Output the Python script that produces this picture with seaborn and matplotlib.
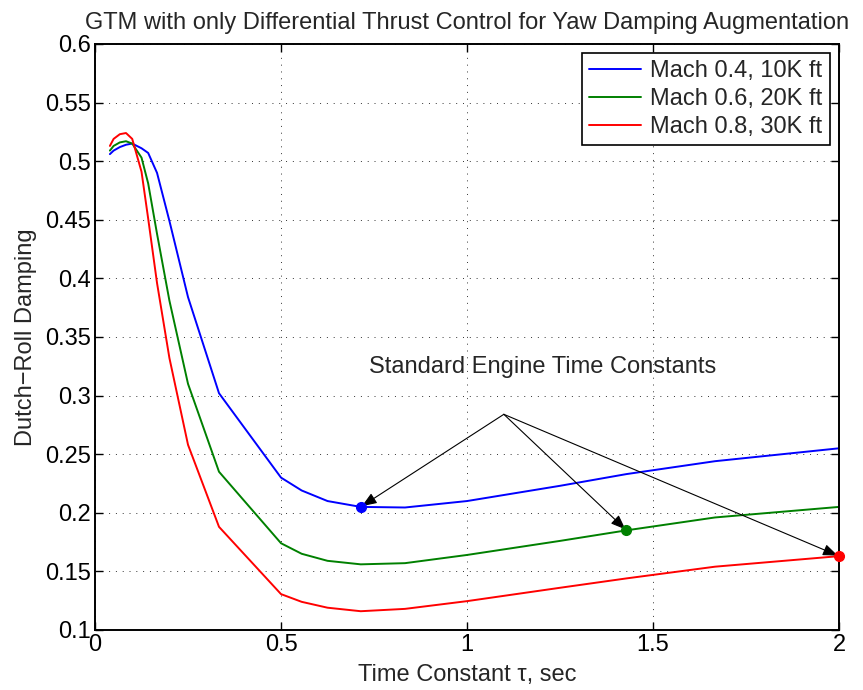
import matplotlib
matplotlib.use("Agg")
import matplotlib.pyplot as plt
import seaborn as sns
import numpy as np
import pandas as pd

# time constant samples (sec)
tau = [0.04, 0.05, 0.0667, 0.0833, 0.1, 0.125, 0.1429, 0.1667, 0.2, 0.25,
       0.3333, 0.5, 0.5556, 0.625, 0.7143, 0.8333, 1.0, 1.25, 1.4286,
       1.6667, 2.0]

damp_m04 = [0.506, 0.509, 0.512, 0.514, 0.515, 0.511, 0.507, 0.490, 0.449,
            0.384, 0.302, 0.230, 0.219, 0.210, 0.205, 0.2045, 0.210, 0.223,
            0.233, 0.244, 0.255]
damp_m06 = [0.509, 0.513, 0.516, 0.517, 0.515, 0.503, 0.481, 0.438, 0.381,
            0.310, 0.235, 0.174, 0.165, 0.159, 0.156, 0.157, 0.164, 0.176,
            0.185, 0.196, 0.205]
damp_m08 = [0.513, 0.519, 0.523, 0.524, 0.519, 0.491, 0.451, 0.396, 0.332,
            0.258, 0.188, 0.1306, 0.124, 0.119, 0.116, 0.118, 0.1246, 0.136,
            0.144, 0.154, 0.163]

labels = ["Mach 0.4, 10K ft", "Mach 0.6, 20K ft", "Mach 0.8, 30K ft"]
colors = ["#0000ff", "#008000", "#ff0000"]

# standard engine time constants
std_tau = [0.7143, 1.4286, 2.0]
std_damp = [0.205, 0.185, 0.163]

df = pd.DataFrame({
    "tau": tau * 3,
    "damp": damp_m04 + damp_m06 + damp_m08,
    "case": [labels[0]] * len(tau) + [labels[1]] * len(tau) + [labels[2]] * len(tau),
})

sns.set_style("ticks")
plt.rcParams["font.family"] = ["Liberation Sans", "DejaVu Sans"]
fs = 17

fig = plt.figure(figsize=(8.63, 6.9), dpi=100)
ax = fig.add_axes([0.1101, 0.0870, 0.8621, 0.8493])

sns.lineplot(data=df, x="tau", y="damp", hue="case", palette=colors,
             linewidth=1.4, sort=False, ax=ax)

for t, d, c in zip(std_tau, std_damp, colors):
    ax.plot(t, d, "o", color=c, markersize=7, clip_on=False, zorder=5)

ax.set_xlim(0, 2)
ax.set_ylim(0.1, 0.6)
ax.set_xticks([0, 0.5, 1, 1.5, 2])
ax.set_xticklabels(["0", "0.5", "1", "1.5", "2"])
yt = [0.1, 0.15, 0.2, 0.25, 0.3, 0.35, 0.4, 0.45, 0.5, 0.55, 0.6]
ax.set_yticks(yt)
ax.set_yticklabels(["0.1", "0.15", "0.2", "0.25", "0.3", "0.35", "0.4",
                    "0.45", "0.5", "0.55", "0.6"])
ax.tick_params(direction="in", length=6, width=1, labelsize=fs,
               top=True, right=True, colors="black", pad=3)
ax.grid(True, color="black", linestyle=(0, (1, 6)), linewidth=0.7, alpha=0.8)
for s in ax.spines.values():
    s.set_visible(True)
    s.set_linewidth(1.4)
    s.set_color("black")

ax.set_xlabel("Time Constant \u03c4, sec", fontsize=fs, labelpad=6)
ax.set_ylabel("Dutch\u2212Roll Damping", fontsize=fs, labelpad=6)
ax.set_title("GTM with only Differential Thrust Control for Yaw Damping Augmentation",
             fontsize=fs, pad=11)

ax.text(1.204, 0.324, "Standard Engine Time Constants", fontsize=fs,
        ha="center", va="center")
for t, d in zip(std_tau, std_damp):
    ax.annotate("", xy=(t, d), xytext=(1.099, 0.284),
                arrowprops=dict(arrowstyle="-|>,head_length=0.9,head_width=0.35",
                                color="black", lw=0.8, shrinkA=0, shrinkB=1))

leg = ax.legend(loc="upper right", fontsize=fs, frameon=True, fancybox=False,
                edgecolor="black", framealpha=1, borderaxespad=0.4,
                handlelength=2.2, labelspacing=0.25, borderpad=0.3,
                handletextpad=0.4, title=None)
leg.get_frame().set_linewidth(1.2)

fig.savefig("out.png", dpi=100)
